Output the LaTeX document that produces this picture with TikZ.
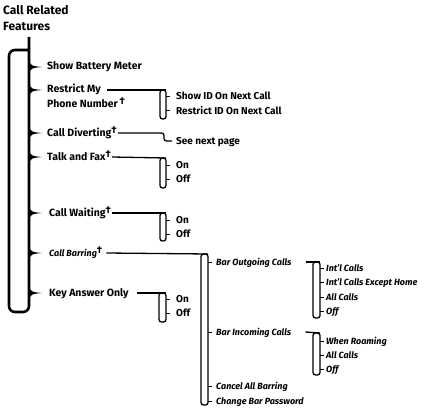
\documentclass[tikz,border=0pt]{standalone}
\usepackage{fontspec}
\setmainfont{Fira Sans}
\usetikzlibrary{calc}

\newcommand{\featdag}{\raisebox{2.5pt}{\fontsize{10}{10}\selectfont\upshape †}}
\tikzset{
  item/.style={anchor=west, inner sep=0pt, text height=8pt, text depth=2pt},
  opt/.style={item, font=\fontsize{10}{12}\selectfont\bfseries},
  sub/.style={item, font=\fontsize{9}{11}\selectfont\bfseries\itshape},
  feed/.style={line width=1.3pt, rounded corners=2.5pt},
  brace/.style={line width=2.6pt, rounded corners=6pt},
  tick/.style={line width=1pt},
}

\begin{document}
\begin{tikzpicture}[x=1pt,y=-1pt,font=\fontsize{10.5}{12}\selectfont\bfseries]
  \useasboundingbox (0,0) rectangle (428,409);

  % title
  \node[item, font=\fontsize{12}{14}\selectfont\bfseries] (title1) at (3,12) {Call Related};
  \node[item, font=\fontsize{12}{14}\selectfont\bfseries] (title2) at (3,28) {Features};

  % main brace
  \draw[brace] (29,37) -- (29,312) -- (9,312) -- (9,50) -- (29,50);
  \foreach \y in {67,90,133,157,213,253,293}
    \fill (29,\y-7) .. controls (31,\y-1) .. (42,\y) .. controls (31,\y+1) .. (29,\y+7) -- cycle;

  % first level
  \node[item] (battery) at (47,67) {Show Battery Meter};
  \node[item] (restrict) at (47,90) {Restrict My};
  \node[item] (phone) at (47,104) {Phone Number\,\featdag};
  \node[item] (divert) at (47,133) {Call Diverting\featdag};
  \node[item] (fax) at (47,157) {Talk and Fax\featdag};
  \node[item] (waiting) at (49,213) {Call Waiting\featdag};
  \node[sub] (barring) at (49,253) {Call Barring\featdag};
  \node[item] (keyans) at (49,293) {Key Answer Only};

  % restrict my phone number
  \coordinate (rsb) at (166,90);
  \draw[feed] ([xshift=6pt]restrict.east) -- (rsb);
  \draw[feed] (160,90) rectangle (166,119);
  \foreach \y in {97,111} \draw[tick] (166,\y) -- ++(4,0);
  \node[opt] (showid) at (176,97) {Show ID On Next Call};
  \node[opt] (restrictid) at (176,111) {Restrict ID On Next Call};

  % call diverting
  \node[opt] (nextpage) at (176,141) {See next page};
  \draw[feed] ([xshift=1pt]divert.east) -- (164,133) -- (164,141) -- ([xshift=-4pt]nextpage.west);

  % talk and fax
  \coordinate (fxb) at (166,158);
  \draw[feed] ([xshift=1pt]fax.east) -- (fxb);
  \draw[feed] (160,158) rectangle (166,188);
  \foreach \y in {165,179} \draw[tick] (166,\y) -- ++(4,0);
  \node[opt] (faxon) at (176,165) {On};
  \node[opt] (faxoff) at (176,179) {Off};

  % call waiting
  \coordinate (cwb) at (166,213);
  \draw[feed] ([xshift=1pt]waiting.east) -- (cwb);
  \draw[feed] (160,213) rectangle (166,241);
  \foreach \y in {220,234} \draw[tick] (166,\y) -- ++(4,0);
  \node[opt] (waiton) at (176,220) {On};
  \node[opt] (waitoff) at (176,234) {Off};

  % key answer only
  \coordinate (kab) at (166,293);
  \draw[feed] ([xshift=8pt]keyans.east) -- (kab);
  \draw[feed] (159,293) rectangle (166,322);
  \foreach \y in {299,313} \draw[tick] (166,\y) -- ++(4,0);
  \node[opt] (keyon) at (176,299) {On};
  \node[opt] (keyoff) at (176,313) {Off};

  % call barring
  \coordinate (cbb) at (208,254);
  \draw[feed] ([xshift=4pt]barring.east) -- (cbb);
  \draw[feed] (201,254) rectangle (208,405);
  \foreach \y in {262,332,386,401} \draw[tick] (208,\y) -- ++(4,0);
  \node[sub] (outgoing) at (216,262) {Bar Outgoing Calls};
  \node[sub] (incoming) at (216,332) {Bar Incoming Calls};
  \node[sub] (cancel) at (216,386) {Cancel All Barring};
  \node[sub] (password) at (216,401) {Change Bar Password};

  % bar outgoing calls
  \coordinate (bob) at (320,262);
  \draw[feed] ([xshift=14pt]outgoing.east) -- (bob);
  \draw[feed] (313,262) rectangle (320,318);
  \foreach \y in {268,282,297,311} \draw[tick] (320,\y) -- ++(4,0);
  \node[sub] (intl) at (326,268) {Int’l Calls};
  \node[sub] (intlhome) at (326,282) {Int’l Calls Except Home};
  \node[sub] (outall) at (326,297) {All Calls};
  \node[sub] (outoff) at (326,311) {Off};

  % bar incoming calls
  \coordinate (bib) at (320,333);
  \draw[feed] ([xshift=14pt]incoming.east) -- (bib);
  \draw[feed] (313,333) rectangle (320,375);
  \foreach \y in {341,355,369} \draw[tick] (320,\y) -- ++(4,0);
  \node[sub] (roaming) at (326,341) {When Roaming};
  \node[sub] (inall) at (326,355) {All Calls};
  \node[sub] (inoff) at (326,369) {Off};
\end{tikzpicture}
\end{document}
